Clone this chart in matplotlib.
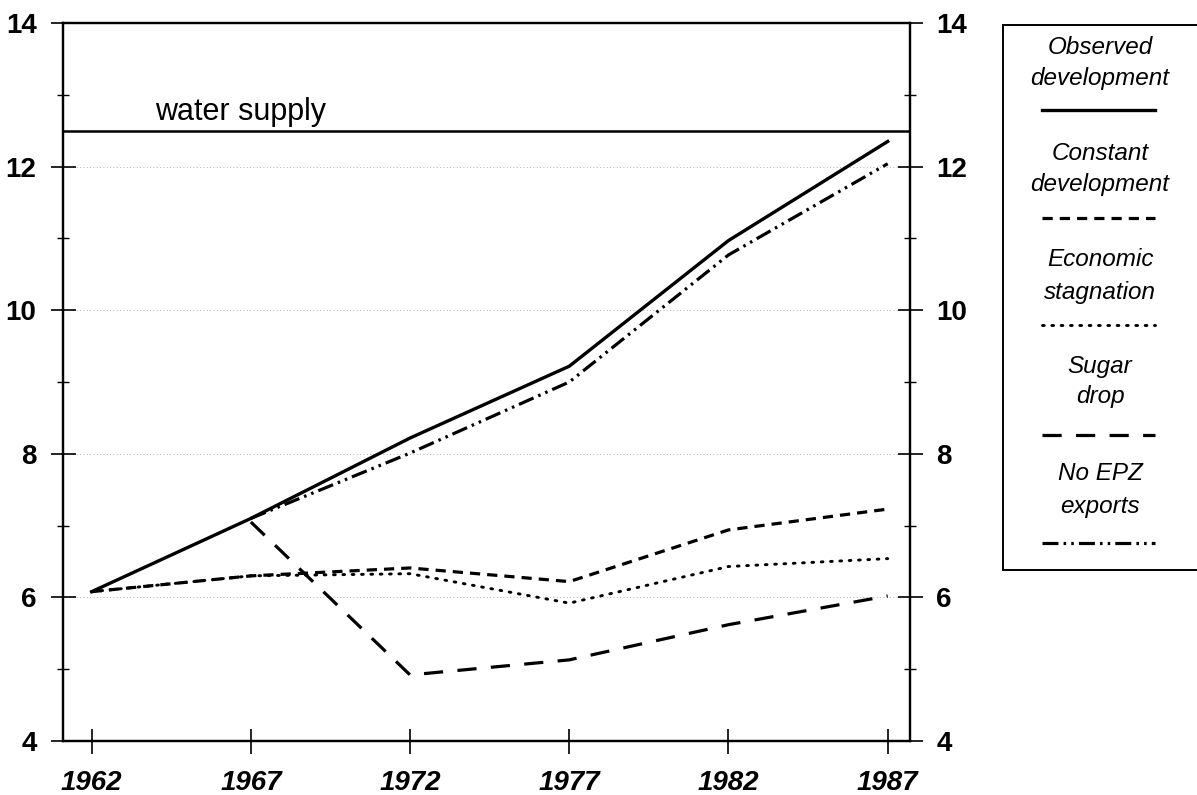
import matplotlib.pyplot as plt
from matplotlib.lines import Line2D

plt.rcParams["font.family"] = ["Liberation Sans", "DejaVu Sans"]

years = [1962, 1967, 1972, 1977, 1982, 1987]
observed = [6.08, 7.10, 8.22, 9.22, 10.97, 12.35]
constant = [6.08, 6.30, 6.41, 6.22, 6.94, 7.23]
stagnation = [6.08, 6.30, 6.33, 5.92, 6.43, 6.54]
late_years = [1967, 1972, 1977, 1982, 1987]
sugar_drop = [7.05, 4.92, 5.13, 5.62, 6.02]
no_epz = [7.10, 8.01, 9.00, 10.77, 12.04]
water_supply = 12.5

legend_labels = ["Observed\ndevelopment", "Constant\ndevelopment", "Economic\nstagnation",
                 "Sugar\ndrop", "No EPZ\nexports"]

styles = {
    "observed": dict(linestyle="-", linewidth=2.4),
    "constant": dict(linestyle=(0, (3.2, 2.2)), linewidth=2.3),
    "stagnation": dict(linestyle=(0, (0.6, 2.6)), linewidth=2.1, dash_capstyle="round"),
    "sugar": dict(linestyle=(0, (6, 4.5)), linewidth=2.3),
    "no_epz": dict(linestyle=(0, (5, 1.6, 0.8, 1.6, 0.8, 1.6)), linewidth=2.3),
}

fig = plt.figure(figsize=(11.97, 7.95), dpi=100)
ax = fig.add_axes([63 / 1197, 54 / 795, 847 / 1197, 718 / 795])

ax.plot(years, observed, color="black", **styles["observed"])
ax.plot(years, constant, color="black", **styles["constant"])
ax.plot(years, stagnation, color="black", **styles["stagnation"])
ax.plot(late_years, sugar_drop, color="black", **styles["sugar"])
ax.plot(late_years, no_epz, color="black", **styles["no_epz"])

ax.axhline(water_supply, color="black", linewidth=1.8)
ax.text(1964.0, water_supply + 0.145, "water supply", fontsize=22, va="baseline", ha="left")

ax.set_xlim(1961.1, 1987.7)
ax.set_ylim(4, 14)
ax.set_xticks(years)
ax.set_xticklabels([str(y) for y in years], fontsize=20, fontweight="bold", style="italic")
ax.set_yticks([4, 6, 8, 10, 12, 14])
ax.set_yticks([5, 7, 9, 11, 13], minor=True)
ax.set_yticklabels(["4", "6", "8", "10", "12", "14"], fontsize=20, fontweight="bold")
ax.tick_params(axis="x", direction="inout", length=18, width=1.2, pad=12)
ax.tick_params(axis="y", which="major", direction="inout", length=18, width=1.2, pad=10)
ax.tick_params(axis="y", which="minor", direction="inout", length=9, width=1.0)
ax.grid(axis="y", which="major", color="0.6", linestyle=(0, (1, 3)), linewidth=0.6)

ax2 = ax.twinx()
ax2.set_ylim(ax.get_ylim())
ax2.set_yticks([4, 6, 8, 10, 12, 14])
ax2.set_yticks([5, 7, 9, 11, 13], minor=True)
ax2.set_yticklabels(["4", "6", "8", "10", "12", "14"], fontsize=20, fontweight="bold")
ax2.tick_params(axis="y", which="major", direction="inout", length=18, width=1.2, pad=10)
ax2.tick_params(axis="y", which="minor", direction="inout", length=9, width=1.0)

for a in (ax, ax2):
    for spine in a.spines.values():
        spine.set_linewidth(1.6)

# legend box, stacked labels above their line samples
lax = fig.add_axes([1003 / 1197, 225 / 795, 0.2, 545 / 795])
lax.set_xlim(0, 1)
lax.set_ylim(570, 25)
lax.set_xticks([])
lax.set_yticks([])
for spine in lax.spines.values():
    spine.set_linewidth(1.4)

text_rows = [(47, 78), (153, 185), (260, 292), (366, 397), (474, 506)]
sample_rows = [110, 218, 325, 435, 543]
keys = ["observed", "constant", "stagnation", "sugar", "no_epz"]
xc = 97 / 239
for label, (y1, y2), ys, key in zip(legend_labels, text_rows, sample_rows, keys):
    first, second = label.split("\n")
    lax.text(xc, y1, first, fontsize=17.5, style="italic", ha="center", va="center")
    lax.text(xc, y2, second, fontsize=17.5, style="italic", ha="center", va="center")
    lax.add_line(Line2D([39 / 239, 152 / 239], [ys, ys], color="black", **styles[key]))

fig.savefig("out.png", dpi=100)
